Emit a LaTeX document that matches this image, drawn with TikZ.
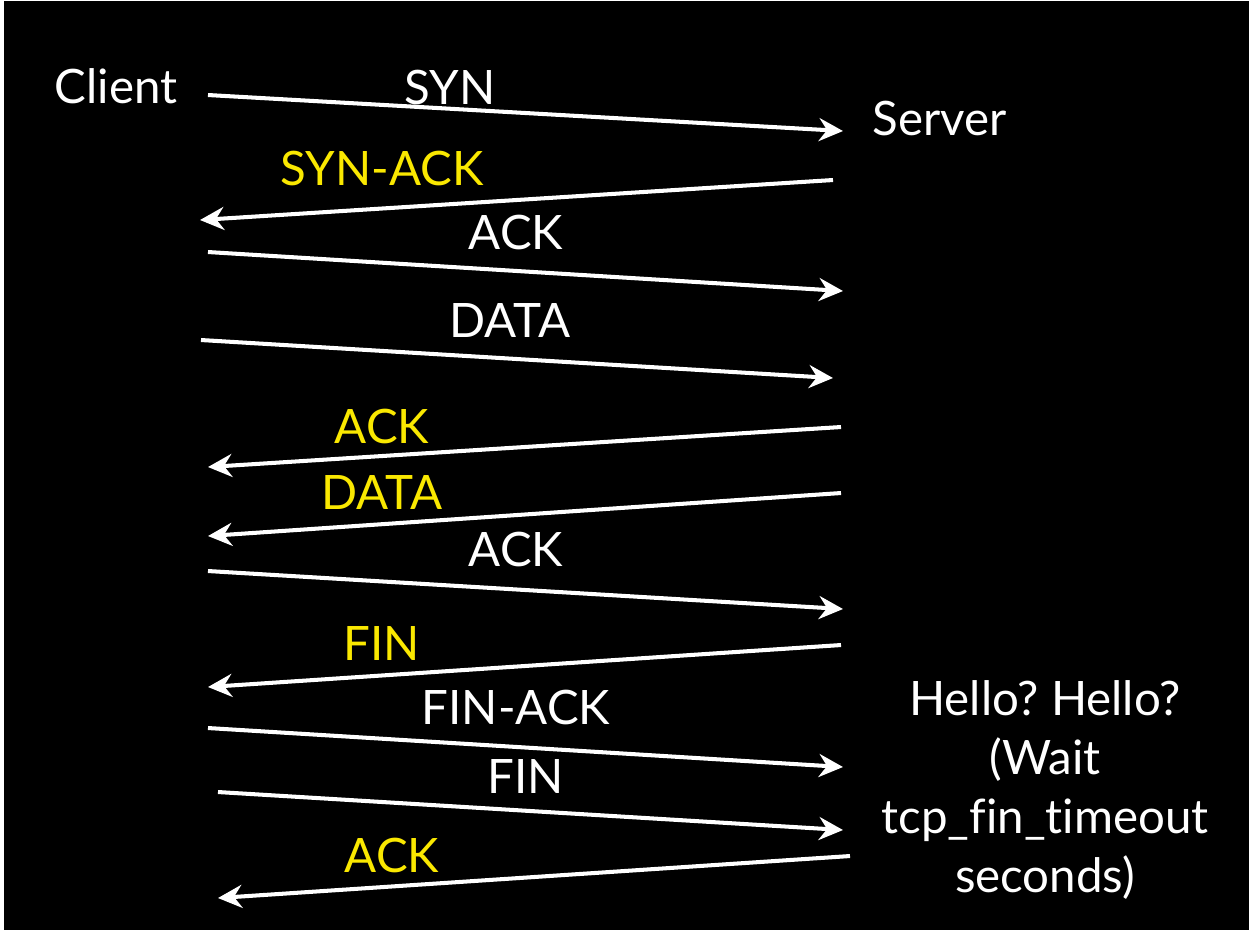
\documentclass[tikz,border=0pt]{standalone}
\usepackage{fontspec}
\setmainfont{Lato}[Ligatures=NoCommon]
\usetikzlibrary{arrows.meta}
\definecolor{ackyellow}{RGB}{250,232,0}
\frenchspacing

\begin{document}
\begin{tikzpicture}[x=0.1mm,y=-0.1mm,
  msg/.style={white,line width=1.15pt,-{Stealth[length=2.4mm,width=2.3mm,inset=0.8mm]}},
  lbl/.style={font=\fontsize{13.5}{16.8}\selectfont,inner sep=0pt,white}]
\useasboundingbox (0,0) rectangle (1249,933);
\fill[white] (0,0) rectangle (1249,933);
\fill[black] (4,1) rectangle (1249,930);
% end points of the messages: client side (c) and server side (s)
\foreach \n/\xc/\yc/\xs/\ys in {1/208/95/843/131, 2/200/220/833/180, 3/208/252/843/291,
  4/201/340/833/378, 5/208/467/841/427, 6/208/536/841/493, 7/208/571/843/609,
  8/208/687/841/645, 9/208/728/843/767, 10/218/792/843/830, 11/218/898/850/856}
  {\coordinate (c\n) at (\xc,\yc); \coordinate (s\n) at (\xs,\ys);}
\node[lbl] (client) at (116,86) {Client};
\node[lbl] (server) at (940,118) {Server};
\node[lbl,align=center] (hello) at (1045,790) {Hello? Hello?\\(Wait\\tcp\_fin\_timeout\\seconds)};
% client to server
\foreach \n/\t/\x/\y in {1/SYN/450/87, 3/ACK/516/232, 4/DATA/510/320, 7/ACK/516/549,
  9/FIN-ACK/516/707, 10/FIN/526/776}
  {\draw[msg] (c\n) -- (s\n); \node[lbl] (m\n) at (\x,\y) {\t};}
% server to client
\foreach \n/\t/\x/\y in {2/SYN-ACK/382/168, 5/ACK/382/426, 6/DATA/382/492, 8/FIN/382/643,
  11/ACK/392/855}
  {\draw[msg] (s\n) -- (c\n); \node[lbl,ackyellow] (m\n) at (\x,\y) {\t};}
\end{tikzpicture}
\end{document}
